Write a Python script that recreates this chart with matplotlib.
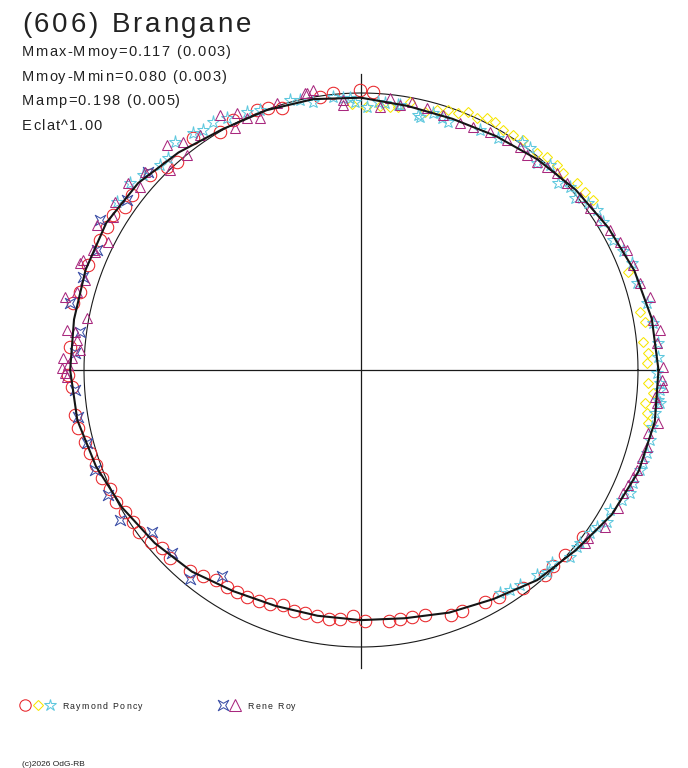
"""
Polar light curve of (606) Brangane, redrawn with matplotlib.
"""

import numpy as np
import matplotlib

matplotlib.use("Agg")
import matplotlib.pyplot as plt
from matplotlib.path import Path
from matplotlib.font_manager import FontProperties, findfont
from matplotlib.ft2font import FT2Font

# --- Data: polar angle (deg, counter-clockwise from +x) and radius (1 = mean) ---
CURVE_ANGLE = [0, 10, 20, 30, 40, 50, 60, 70, 80, 90, 100, 110, 120, 130, 140, 150, 160, 170,
               180, 190, 200, 210, 220, 230, 240, 250, 260, 270, 280, 290, 300, 310, 320, 330, 340, 350]
CURVE_R = [1.074, 1.066, 1.050, 1.030, 1.012, 0.992, 0.975, 0.965, 0.968, 0.983, 0.993, 0.998,
           1.003, 1.025, 1.050, 1.062, 1.058, 1.052, 1.050, 1.040, 1.018, 0.995, 0.972, 0.950,
           0.922, 0.906, 0.901, 0.903, 0.910, 0.932, 0.955, 0.990, 1.012, 1.045, 1.067, 1.077]

poncy_circle_angle = [229.6, 232.5, 235.4, 238.3, 240.8, 243.3, 246.2, 248.7, 251.6, 254.5, 257.0, 259.9,
                      262.7, 265.2, 268.1, 270.9, 276.4, 278.9, 281.7, 284.6, 290.2, 292.7, 298.1, 301.3,
                      306.6, 311.9, 314.4, 317.8, 323.0,
                      159.0, 164.5, 166.9, 175.5, 181.0, 183.4, 188.9, 191.6, 194.6, 197.0, 199.7, 202.6,
                      205.4, 208.3, 211.0, 213.7, 216.1, 219.3, 221.8, 224.5,
                      153.5, 150.6, 148.0, 145.4, 142.6, 137.3, 133.7, 131.5, 125.9, 120.6, 117.1, 111.8,
                      109.5, 106.8, 98.5, 95.8, 90.2, 87.5]
poncy_circle_r = [0.953, 0.937, 0.921, 0.921, 0.918, 0.917, 0.912, 0.906, 0.894, 0.903, 0.900, 0.902,
                  0.906, 0.902, 0.889, 0.906, 0.912, 0.910, 0.910, 0.914, 0.942, 0.943, 0.950, 0.959,
                  0.982, 0.994, 0.991, 0.994, 1.003,
                  1.056, 1.053, 1.067, 1.054, 1.058, 1.045, 1.045, 1.043, 1.030, 1.023, 1.016, 1.013,
                  1.003, 1.005, 0.994, 0.989, 0.992, 0.980, 0.964, 0.968,
                  1.053, 1.052, 1.056, 1.035, 1.040, 1.037, 1.014, 1.003, 1.034, 0.999, 1.014, 1.011,
                  1.004, 0.988, 0.997, 1.005, 1.011, 1.005]

poncy_diamond_angle = [83.7, 82.0, 79.6, 76.1, 73.7, 71.5, 69.3, 67.5, 65.3, 63.4, 61.6, 59.4, 57.1,
                       54.8, 51.0, 48.9, 46.3, 44.3, 40.9, 38.5, 36.2, 20.2, 11.7, 9.6, 5.7, 3.4, 1.4,
                       -2.6, -4.5, -6.6, -8.6, -10.5, 88.9, 85.9, 91.9]
poncy_diamond_r = [0.955, 0.959, 0.984, 0.960, 0.978, 0.990, 0.992, 1.008, 1.002, 1.017, 1.018, 1.007,
                   1.010, 1.016, 1.009, 1.021, 1.024, 1.019, 1.031, 1.033, 1.038, 1.027, 1.029, 1.040,
                   1.023, 1.038, 1.033, 1.037, 1.057, 1.032, 1.044, 1.054, 0.950, 0.956, 0.961]

poncy_star_angle = [84.9, 82.1, 77.4, 74.3, 72.2, 70.7, 63.6, 59.4, 54.8, 52.7, 49.6, 47.3, 43.5, 41.2,
                    38.8, 36.3, 34.1, 31.4, 27.3, 24.5, 21.5,
                    17.5, 13.2, 9.1, 5.2, 2.5, -3.8, -5.8, -0.6, -2.5, -6.3, -8.3, -11.1, -13.6, -16.2,
                    -18.3, -19.7, -22.6, -24.6, -26.5, -29.3, -31.7, -33.6, -35.4, -38.3, -41.8, -45.3,
                    -58.1, -55.9, -53.5, -49.4, -47.4, -39.3,
                    145.5, 141.0, 138.2, 134.4, 132.3, 129.2, 125.3, 123.4, 120.8, 118.0, 113.8, 111.2,
                    104.7, 102.7, 100.2, 95.9, 92.3,
                    88.7, 86.4, 81.6, 76.9, 93.8, 91.3]
poncy_star_r = [0.968, 0.966, 0.943, 0.964, 0.956, 0.949, 0.967, 0.973, 1.008, 1.007, 0.981, 1.007,
                0.981, 1.003, 0.991, 1.017, 1.029, 1.024, 1.024, 1.040, 1.052,
                1.045, 1.060, 1.068, 1.077, 1.073, 1.082, 1.078, 1.069, 1.080, 1.086, 1.073, 1.071,
                1.074, 1.075, 1.072, 1.070, 1.063, 1.068, 1.053, 1.031, 1.044, 1.023, 1.015, 1.008,
                1.012, 0.980, 0.949, 0.959, 0.965, 0.975, 0.991, 1.008,
                1.069, 1.073, 1.056, 1.036, 1.035, 1.062, 1.049, 1.037, 1.043, 1.030, 1.018, 1.007,
                1.008, 0.999, 0.983, 0.991, 0.983,
                0.950, 0.969, 0.967, 0.938, 0.984, 0.968]

roy_star_angle = [161.5, 167.0, 172.3, 176.6, 184.0, 189.4, 194.9, 200.6, 206.3, 211.9, 217.8, 224.1,
                  230.7, 236.0, 150.1, 144.0, 137.1, 155.6]
roy_star_r = [1.058, 1.078, 1.024, 1.034, 1.035, 1.036, 1.024, 1.026, 1.019, 1.025, 0.955, 0.950,
              0.975, 0.897, 1.087, 1.044, 1.050, 1.047]

roy_triangle_angle = [158.4, 155.9, 151.2, 153.2, 148.3, 145.7, 141.3, 140.4, 137.5, 130.8, 133.7, 128.0,
                      129.0, 124.4, 118.9, 117.5, 115.8, 114.3, 111.8, 107.5, 101.0, 99.7, 93.8,
                      156.1, 159.2, 162.0, 164.6, 166.1, 169.3, 172.3, 172.4, 174.0, 175.9, 177.7, 177.6,
                      179.6, 180.6, 179.0, 181.4,
                      72.2, 68.2, 65.3, 61.5, 57.6, 54.5, 52.3, 49.8, 47.5, 45.1, 42.2, 38.3, 35.3, 32.1,
                      29.3, 26.3, 24.3, 21.1, 17.3, 14.2, 9.7, 7.6, 5.2, 0.6, -1.9, -6.4, -3.2, -5.2,
                      -10.1, -12.4, -15.1, -17.4, -19.9, -21.5, -23.3, -25.2, -28.2, -32.8, -36.5, -37.7,
                      101.4, 93.9, 85.9, 83.9, 81.6, 79.2, 75.9]
roy_triangle_r = [1.079, 1.060, 1.087, 1.024, 1.052, 1.075, 1.079, 1.036, 1.058, 1.073, 0.998, 1.044,
                  0.999, 1.028, 1.052, 0.985, 1.030, 0.999, 0.980, 1.010, 1.019, 1.026, 0.977,
                  1.051, 1.085, 1.048, 1.063, 1.101, 1.007, 1.071, 1.042, 1.031, 1.017, 1.077, 1.044,
                  1.079, 1.069, 1.058, 1.062,
                  0.967, 0.961, 0.966, 0.977, 0.983, 0.989, 0.981, 0.984, 0.994, 1.003, 1.004, 1.008,
                  1.013, 1.019, 1.031, 1.043, 1.053, 1.053, 1.055, 1.076, 1.069, 1.089, 1.073, 1.090,
                  1.087, 1.075, 1.092, 1.066, 1.089, 1.061, 1.069, 1.063, 1.060, 1.055, 1.050, 1.045,
                  1.053, 1.048, 1.019, 1.022,
                  1.020, 0.959, 0.952, 0.988, 0.967, 0.985, 0.975]

TITLE = "(606) Brangane"
INFO_LINES = ["Mmax-Mmoy=0.117 (0.003)", "Mmoy-Mmin=0.080 (0.003)", "Mamp=0.198 (0.005)", "Eclat^1.00"]
OBSERVERS = ["Raymond Poncy", "Rene Roy"]
CREDIT = "(c)2026 OdG-RB"

# --- Layout (pixels) ---
W, H, DPI = 688, 768, 100
CX_PX, CY_PX, R_PX = 361, 370, 277
FONT = "Liberation Sans"
TEXT_COLOR = "#222222"

RED = "#e82328"
YELLOW = "#f7e600"
CYAN = "#5ec8de"
BLUE = "#3a4ea6"
MAGENTA = "#a8287e"

STAR4 = Path([(1, 1), (0, 0.42), (-1, 1), (-0.42, 0), (-1, -1), (0, -0.42), (1, -1), (0.42, 0), (1, 1)],
             [Path.MOVETO] + [Path.LINETO] * 7 + [Path.CLOSEPOLY])


def to_xy(angle, r):
    a = np.deg2rad(np.asarray(angle, dtype=float))
    r = np.asarray(r, dtype=float)
    return r * np.cos(a), r * np.sin(a)


def tracked_text(fig, x_px, y_px, s, size, track_px, color=TEXT_COLOR):
    """Draw text char by char with extra letter spacing (baseline at y_px)."""
    prop = FontProperties(family=FONT, size=size)
    ft = FT2Font(findfont(prop))
    ft.set_size(size, DPI)
    x = x_px
    for ch in s:
        fig.text(x / W, 1 - y_px / H, ch, fontproperties=prop, color=color,
                 ha="left", va="baseline")
        x += ft.load_char(ord(ch)).linearHoriAdvance / 65536 + track_px


fig = plt.figure(figsize=(W / DPI, H / DPI), dpi=DPI)
fig.patch.set_facecolor("white")
ax = fig.add_axes([0, 0, 1, 1])
ax.set_xlim(-CX_PX / R_PX, (W - CX_PX) / R_PX)
ax.set_ylim(-(H - CY_PX) / R_PX, CY_PX / R_PX)
ax.axis("off")

# reference circle and cross
t = np.linspace(0, 2 * np.pi, 400)
ax.plot(np.cos(t), np.sin(t), color="#1a1a1a", lw=0.8, zorder=1)
ax.plot([-1.072, 1.072], [0, 0], color="#1a1a1a", lw=0.9, zorder=1)
ax.plot([0, 0], [-1.076, 1.069], color="#1a1a1a", lw=0.9, zorder=1)

mk = dict(linestyle="none", markerfacecolor="none", markeredgewidth=0.75)
series = [
    (poncy_circle_angle, poncy_circle_r, "o", 9.0, RED),
    (poncy_diamond_angle, poncy_diamond_r, "D", 5.6, YELLOW),
    (poncy_star_angle, poncy_star_r, "*", 9.5, CYAN),
    (roy_star_angle, roy_star_r, STAR4, 7.5, BLUE),
    (roy_triangle_angle, roy_triangle_r, "^", 7.8, MAGENTA),
]
for ang, rad, marker, ms, color in series:
    x, y = to_xy(ang, rad)
    ax.plot(x, y, marker=marker, markersize=ms, markeredgecolor=color, zorder=2, **mk)

# light curve
cx, cy = to_xy(CURVE_ANGLE + CURVE_ANGLE[:1], CURVE_R + CURVE_R[:1])
ax.plot(cx, cy, color="#151515", lw=1.5, zorder=3)

# --- Texts ---
tracked_text(fig, 22, 32, TITLE, 20, 2.8)
for i, line in enumerate(INFO_LINES):
    tracked_text(fig, 22, 56 + 24.7 * i, line, 10.5, 1.3)

# legend
fig_ax = fig.add_axes([0, 0, 1, 1], facecolor="none")
fig_ax.set_xlim(0, W)
fig_ax.set_ylim(H, 0)
fig_ax.axis("off")
legend_marks = [
    (25, "o", 8.2, RED), (37.5, "D", 5.4, YELLOW), (49.5, "*", 9.0, CYAN),
    (222.5, STAR4, 7.5, BLUE), (235, "^", 8.0, MAGENTA),
]
for lx, marker, ms, color in legend_marks:
    fig_ax.plot([lx], [704.5], marker=marker, markersize=ms, markeredgecolor=color, **mk)
tracked_text(fig, 62, 709, OBSERVERS[0], 6.3, 1.35)
tracked_text(fig, 247.5, 709, OBSERVERS[1], 6.3, 1.35)

fig.text(22 / W, 1 - 766 / H, CREDIT, fontproperties=FontProperties(family=FONT, size=6),
         color=TEXT_COLOR, ha="left", va="baseline")

fig.savefig("out.png", dpi=DPI, facecolor="white")
